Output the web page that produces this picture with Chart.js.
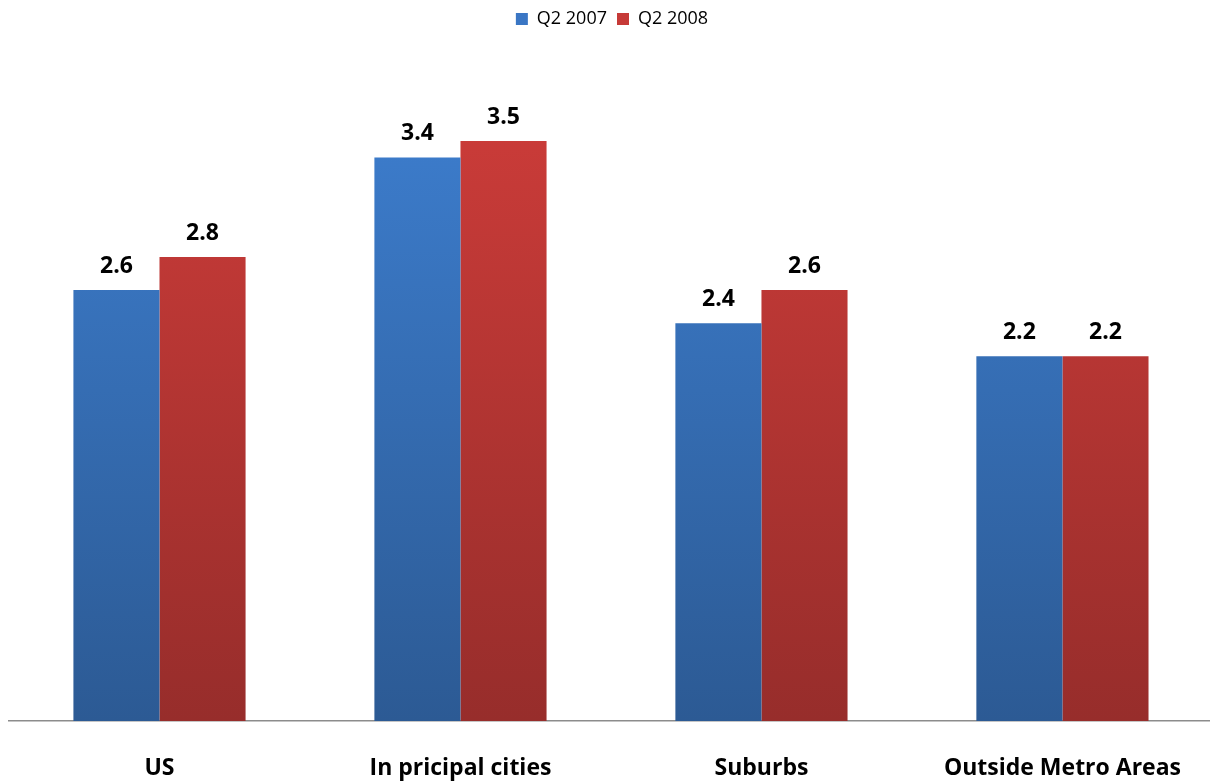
<!DOCTYPE html>
<html>
<head>
<meta charset="utf-8">
<title>Q2 2007 vs Q2 2008</title>
<script src="https://cdn.jsdelivr.net/npm/chart.js@4"></script>
<style>
  html, body { margin: 0; padding: 0; background: #fff; overflow: hidden; }
  #wrap { width: 1215px; height: 782px; }
</style>
</head>
<body>
<div id="wrap"><canvas id="bar-chart"></canvas></div>
<script>
const categories = ["US", "In pricipal cities", "Suburbs", "Outside Metro Areas"];
const seriesNames = ["Q2 2007", "Q2 2008"];
const q2007 = [2.6, 3.4, 2.4, 2.2];
const q2008 = [2.8, 3.5, 2.6, 2.2];

const fontFamily = "'Open Sans', 'Noto Sans', sans-serif";

// vertical gradient from top of chart area down to the baseline
function gradient(top, bottom) {
  return (context) => {
    const { ctx, chartArea } = context.chart;
    if (!chartArea) return top;
    const g = ctx.createLinearGradient(0, chartArea.top, 0, chartArea.bottom);
    g.addColorStop(0, top);
    g.addColorStop(1, bottom);
    return g;
  };
}

// value labels above each bar
const valueLabels = {
  id: "valueLabels",
  afterDatasetsDraw(chart) {
    const ctx = chart.ctx;
    ctx.save();
    ctx.font = "bold 23px " + fontFamily;
    ctx.fillStyle = "#000";
    ctx.textAlign = "center";
    ctx.textBaseline = "alphabetic";
    chart.data.datasets.forEach((ds, i) => {
      chart.getDatasetMeta(i).data.forEach((bar, j) => {
        ctx.fillText(ds.data[j].toFixed(1), bar.x, bar.y - 17);
      });
    });
    ctx.restore();
  },
};

// leave some room under the legend
const legendSpace = {
  id: "legendSpace",
  beforeInit(chart) {
    const fit = chart.legend.fit;
    chart.legend.fit = function () {
      fit.call(this);
      this.height += 20;
    };
  },
};

const ctx = document.getElementById("bar-chart").getContext("2d");
new Chart(ctx, {
  type: "bar",
  data: {
    labels: categories,
    datasets: [
      {
        label: seriesNames[0],
        data: q2007,
        backgroundColor: gradient("#3e80d2", "#2c5a94"),
        legendColor: "#3a76c4",
      },
      {
        label: seriesNames[1],
        data: q2008,
        backgroundColor: gradient("#d03d3a", "#972d2b"),
        legendColor: "#c63a37",
      },
    ],
  },
  options: {
    responsive: true,
    maintainAspectRatio: false,
    animation: false,
    layout: { padding: { left: 9, right: 0, top: 0, bottom: 0 } },
    datasets: {
      bar: { categoryPercentage: 0.572, barPercentage: 1 },
    },
    plugins: {
      legend: {
        position: "top",
        labels: {
          boxWidth: 12,
          boxHeight: 12,
          padding: 10,
          color: "#000",
          font: { family: fontFamily, size: 18 },
          generateLabels(chart) {
            return chart.data.datasets.map((ds, i) => ({
              text: ds.label,
              fillStyle: ds.legendColor,
              strokeStyle: ds.legendColor,
              lineWidth: 0,
              datasetIndex: i,
            }));
          },
        },
      },
      tooltip: { enabled: false },
    },
    scales: {
      x: {
        grid: { display: false, drawTicks: false },
        border: { display: true, color: "#8c8c8c", width: 1.5 },
        ticks: {
          color: "#000",
          padding: 34,
          font: { family: fontFamily, size: 23, weight: "bold" },
        },
        afterFit(scale) {
          scale.height = 61;
        },
      },
      y: {
        display: false,
        min: 0,
        max: 4,
      },
    },
  },
  plugins: [valueLabels, legendSpace],
});
</script>
</body>
</html>
